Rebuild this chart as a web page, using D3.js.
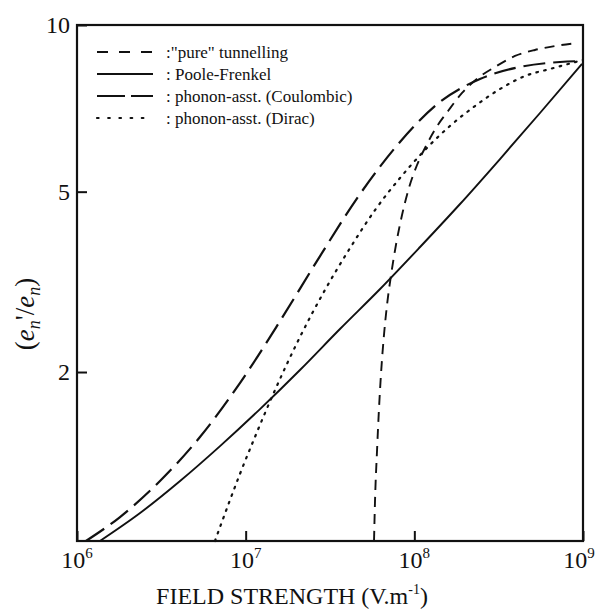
<!DOCTYPE html>
<html>
<head>
<meta charset="utf-8">
<script src="https://cdn.jsdelivr.net/npm/d3@7/dist/d3.min.js"></script>
<style>
  body { margin: 0; background: #fff; }
  svg text { font-family: "Liberation Serif", "DejaVu Serif", serif; fill: #111; }
</style>
</head>
<body>
<div id="chart"></div>
<script>
// tick values
const xTickExps = [6, 7, 8, 9];
const yTicks = [2, 5, 10];
const legendLabels = [':"pure" tunnelling', ": Poole-Frenkel", ": phonon-asst. (Coulombic)", ": phonon-asst. (Dirac)"];

// curves: log10 of field strength (V/m) and ratio e_n'/e_n
const pureLogE  = [7.761, 7.767, 7.779, 7.79, 7.802, 7.82, 7.838, 7.862, 7.891, 7.927, 7.968, 8.016, 8.069, 8.128, 8.2, 8.283, 8.377, 8.478, 8.597, 8.715, 8.834, 8.97];
const pureRatio = [0.663, 0.892, 1.247, 1.60, 1.966, 2.457, 2.882, 3.36, 3.895, 4.49, 5.084, 5.633, 6.121, 6.61, 7.099, 7.647, 8.125, 8.49, 8.869, 9.08, 9.221, 9.33];

const pfLogE  = [6.136, 6.374, 6.611, 6.848, 7.085, 7.322, 7.559, 7.797, 8.034, 8.271, 8.508, 8.745, 8.994];
const pfRatio = [0.663, 0.814, 1.017, 1.279, 1.609, 2.023, 2.538, 3.13, 3.857, 4.726, 5.784, 7.04, 8.593];

const coulLogE  = [6.053, 6.255, 6.492, 6.729, 6.966, 7.204, 7.441, 7.678, 7.915, 8.152, 8.389, 8.626, 8.864, 9.0];
const coulRatio = [0.663, 0.791, 1.017, 1.355, 1.877, 2.649, 3.691, 4.947, 6.227, 7.369, 8.092, 8.49, 8.661, 8.695];

const diracLogE  = [6.818, 6.848, 6.907, 6.966, 7.055, 7.174, 7.322, 7.47, 7.619, 7.767, 7.915, 8.063, 8.211, 8.36, 8.508, 8.656, 8.804, 9.0];
const diracRatio = [0.663, 0.735, 0.892, 1.066, 1.355, 1.802, 2.431, 3.114, 3.838, 4.596, 5.317, 6.016, 6.666, 7.248, 7.771, 8.19, 8.423, 8.73];

const width = 596, height = 614;
const margin = { top: 25, right: 13, bottom: 73, left: 77 };

const svg = d3.select("#chart").append("svg")
  .attr("width", width)
  .attr("height", height);

const x = d3.scaleLog()
  .domain([1e6, 1e9])
  .range([margin.left, width - margin.right]);

// the ratio axis is compressed like a fourth-root scale
const y = d3.scalePow().exponent(0.25)
  .domain([0.663, 10])
  .range([height - margin.bottom, margin.top]);

const series = [
  { logE: pureLogE, ratio: pureRatio, dash: "10,7", w: 1.9 },
  { logE: pfLogE, ratio: pfRatio, dash: null, w: 1.9 },
  { logE: coulLogE, ratio: coulRatio, dash: "22,8", w: 2.2 },
  { logE: diracLogE, ratio: diracRatio, dash: "1.6,6.4", w: 2.2 }
];

const line = d3.line()
  .x(d => x(10 ** d[0]))
  .y(d => y(d[1]))
  .curve(d3.curveMonotoneX);

const plot = svg.append("g");
series.forEach((s, i) => {
  const pts = s.logE.map((e, j) => [e, s.ratio[j]]);
  plot.append("path")
    .datum(pts)
    .attr("fill", "none")
    .attr("stroke", "#111")
    .attr("stroke-width", s.w)
    .attr("stroke-dasharray", s.dash)
    .attr("stroke-linecap", i === 3 ? "round" : "butt")
    .attr("d", line);
});

// frame
const [x0, x1] = x.range();
const [yb, yt] = y.range();
svg.append("rect")
  .attr("x", x0).attr("y", yt)
  .attr("width", x1 - x0).attr("height", yb - yt)
  .attr("fill", "none")
  .attr("stroke", "#111")
  .attr("stroke-width", 2.2);

// x axis (ticks inward)
const xAxis = svg.append("g")
  .attr("transform", `translate(0,${yb})`)
  .call(d3.axisBottom(x).tickValues(xTickExps.map(e => 10 ** e)).tickSizeInner(-10).tickSizeOuter(0).tickFormat(""));
xAxis.select(".domain").remove();
xAxis.selectAll("line").attr("stroke", "#111").attr("stroke-width", 2);

xTickExps.forEach(e => {
  // keep the last label inside the page
  const cx = Math.min(x(10 ** e), width - 17);
  const t = svg.append("text")
    .attr("x", cx)
    .attr("y", yb + 27)
    .attr("text-anchor", "middle")
    .style("font-size", "24px");
  t.append("tspan").text("10");
  t.append("tspan").attr("dy", -10).style("font-size", "15px").text(e);
});

// y axis (ticks inward)
const yAxis = svg.append("g")
  .attr("transform", `translate(${x0},0)`)
  .call(d3.axisLeft(y).tickValues(yTicks).tickSizeInner(-10).tickSizeOuter(0).tickFormat(""));
yAxis.select(".domain").remove();
yAxis.selectAll("line").attr("stroke", "#111").attr("stroke-width", 2);

yTicks.forEach(v => {
  svg.append("text")
    .attr("x", x0 - 7)
    .attr("y", y(v))
    .attr("dy", "0.35em")
    .attr("text-anchor", "end")
    .style("font-size", "24px")
    .text(v);
});

// axis titles
const xt = svg.append("text")
  .attr("x", 292)
  .attr("y", 604)
  .attr("text-anchor", "middle")
  .style("font-size", "24px");
xt.append("tspan").text("FIELD STRENGTH (V.m");
xt.append("tspan").attr("dy", -10).style("font-size", "14px").text("-1");
xt.append("tspan").attr("dy", 10).text(")");

const yt2 = svg.append("text")
  .attr("transform", `translate(34,314) rotate(-90)`)
  .attr("text-anchor", "middle")
  .style("font-size", "27px");
yt2.append("tspan").text("(");
yt2.append("tspan").style("font-style", "italic").text("e");
yt2.append("tspan").attr("dy", 6).style("font-size", "18px").style("font-style", "italic").text("n");
yt2.append("tspan").attr("dy", -6).text("'/");
yt2.append("tspan").style("font-style", "italic").text("e");
yt2.append("tspan").attr("dy", 6).style("font-size", "18px").style("font-style", "italic").text("n");
yt2.append("tspan").attr("dy", -6).text(")");

// legend
const legendDash = ["11,11", null, "28,6", "1.6,9.6"];
const legend = svg.append("g");
legendLabels.forEach((lab, i) => {
  const ly = 52 + i * 22;
  legend.append("line")
    .attr("x1", 97).attr("x2", 153)
    .attr("y1", ly).attr("y2", ly)
    .attr("stroke", "#111")
    .attr("stroke-width", series[i].w)
    .attr("stroke-dasharray", legendDash[i])
    .attr("stroke-linecap", i === 3 ? "round" : "butt");
  legend.append("text")
    .attr("x", 166)
    .attr("y", ly)
    .attr("dy", "0.35em")
    .style("font-size", "17px")
    .text(lab);
});
</script>
</body>
</html>
